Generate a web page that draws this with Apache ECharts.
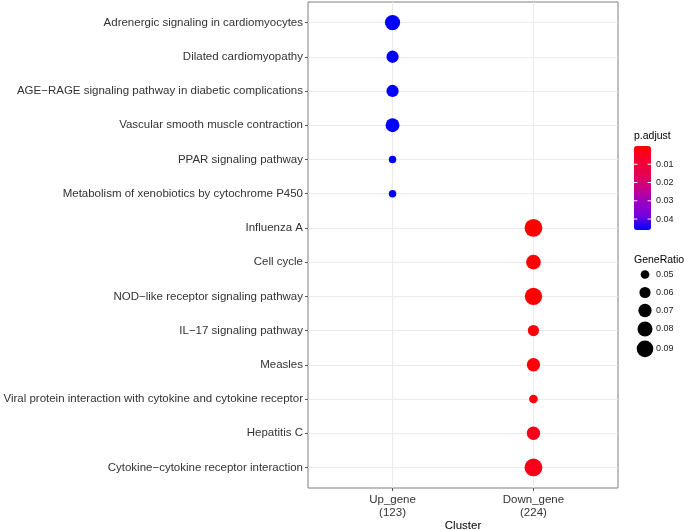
<!DOCTYPE html>
<html><head><meta charset="utf-8">
<script src="https://cdn.jsdelivr.net/npm/echarts@6/dist/echarts.min.js"></script>
<style>html,body{margin:0;padding:0;background:#fff}#c{width:685px;height:530px}</style>
</head><body><div id="c"></div>
<script>
// ---- data ----
const pathways = [
  'Adrenergic signaling in cardiomyocytes',
  'Dilated cardiomyopathy',
  'AGE\u2212RAGE signaling pathway in diabetic complications',
  'Vascular smooth muscle contraction',
  'PPAR signaling pathway',
  'Metabolism of xenobiotics by cytochrome P450',
  'Influenza A',
  'Cell cycle',
  'NOD\u2212like receptor signaling pathway',
  'IL\u221217 signaling pathway',
  'Measles',
  'Viral protein interaction with cytokine and cytokine receptor',
  'Hepatitis C',
  'Cytokine\u2212cytokine receptor interaction'
];
const clusters = ['Up_gene\n(123)', 'Down_gene\n(224)'];
const pathwayCluster = [0,0,0,0,0,0,1,1,1,1,1,1,1,1];
const geneRatio = [0.0813,0.0650,0.0650,0.0732,0.0460,0.0460,0.0982,0.0785,0.0945,0.0603,0.0705,0.0500,0.0705,0.0982];
const pAdjust   = [0.0460,0.0459,0.0459,0.0460,0.0460,0.0460,0.0002,0.0003,0.0002,0.0015,0.0015,0.0015,0.0040,0.0040];
const sizeLegendValues = [0.05,0.06,0.07,0.08,0.09];
const colorLegendTicks = [0.01,0.02,0.03,0.04];
const pMin = 0, pMax = 0.046;

// ---- scales ----
function sizeScale(v){ return Math.sqrt(Math.max(0, 5000*(v-0.03486))); }
const points = pathways.map((p,i)=>[pathwayCluster[i]+1, i+1, pAdjust[i], geneRatio[i], p]);

const chart = echarts.init(document.getElementById('c'));
const font = 'Liberation Sans, Arial, Helvetica, sans-serif';

// legend graphics
const g = [];
const cbLeft = 634, cbTop = 146, cbW = 17, cbH = 84;
g.push({type:'text', left:cbLeft, top:131, style:{text:'p.adjust', font:'10.5px '+font, fill:'#000'}});
colorLegendTicks.forEach(v=>{
  const y = cbTop + (v-pMin)/(pMax-pMin)*cbH;
  g.push({type:'line', shape:{x1:cbLeft, y1:y, x2:cbLeft+3.4, y2:y}, style:{stroke:'#fff', lineWidth:1}, z:100});
  g.push({type:'line', shape:{x1:cbLeft+cbW-3.4, y1:y, x2:cbLeft+cbW, y2:y}, style:{stroke:'#fff', lineWidth:1}, z:100});
  g.push({type:'text', x:cbLeft+cbW+5, y:y, style:{text:v.toFixed(2), font:'9px '+font, fill:'#1a1a1a', verticalAlign:'middle'}});
});
g.push({type:'text', left:634, top:255, style:{text:'GeneRatio', font:'10.5px '+font, fill:'#000'}});
let cy = 265.5;
sizeLegendValues.forEach(v=>{
  const d = sizeScale(v);
  const h = Math.max(18, d+4);
  const c = cy + h/2;
  g.push({type:'circle', shape:{cx:645, cy:c, r:d/2}, style:{fill:'#000'}});
  g.push({type:'text', x:cbLeft+cbW+5, y:c, style:{text:v.toFixed(2), font:'9px '+font, fill:'#1a1a1a', verticalAlign:'middle'}});
  cy += h;
});

chart.setOption({
  animation:false,
  backgroundColor:'#fff',
  textStyle:{fontFamily:font},
  grid:{left:308, right:67, top:2, bottom:42, containLabel:false, outerBoundsMode:'none', show:true, borderColor:'#7f7f7f', borderWidth:1, backgroundColor:'#fff'},
  xAxis:{
    type:'value', min:0.4, max:2.6,
    axisLine:{show:false},
    axisTick:{show:true, length:3, lineStyle:{color:'#555'}, customValues:[1,2]},
    axisLabel:{customValues:[1,2], formatter:v=>clusters[Math.round(v)-1]||'', fontSize:11.5, color:'#333', lineHeight:13, margin:5},
    splitLine:{show:true, lineStyle:{color:'#ebebeb', width:1}},
    name:'Cluster', nameLocation:'middle', nameGap:32, nameMoveOverlap:false,
    nameTextStyle:{fontSize:11.5, color:'#000', verticalAlign:'top'}
  },
  yAxis:{
    type:'value', min:0.4, max:14.6, inverse:true,
    axisLine:{show:false},
    axisTick:{show:true, length:3, lineStyle:{color:'#555'}, customValues:pathways.map((_,i)=>i+1)},
    axisLabel:{customValues:pathways.map((_,i)=>i+1), formatter:v=>pathways[Math.round(v)-1]||'', fontSize:11.5, color:'#333', margin:5},
    splitLine:{show:true, lineStyle:{color:'#ebebeb', width:1}}
  },
  visualMap:{
    type:'continuous', dimension:2, seriesIndex:0, min:pMin, max:pMax, inverse:true,
    calculable:false, itemWidth:cbW, itemHeight:cbH, left:cbLeft, top:cbTop, padding:0,
    inRange:{color:['#FF0000','#F40031','#E80050','#C90089','#9A00C3','#7300E0','#0000FF']},
    textStyle:{color:'transparent'}
  },
  series:[{
    type:'scatter', data:points, symbol:'circle',
    symbolSize:val=>sizeScale(val[3]),
    itemStyle:{opacity:1}
  }],
  graphic:g
});
</script></body></html>
